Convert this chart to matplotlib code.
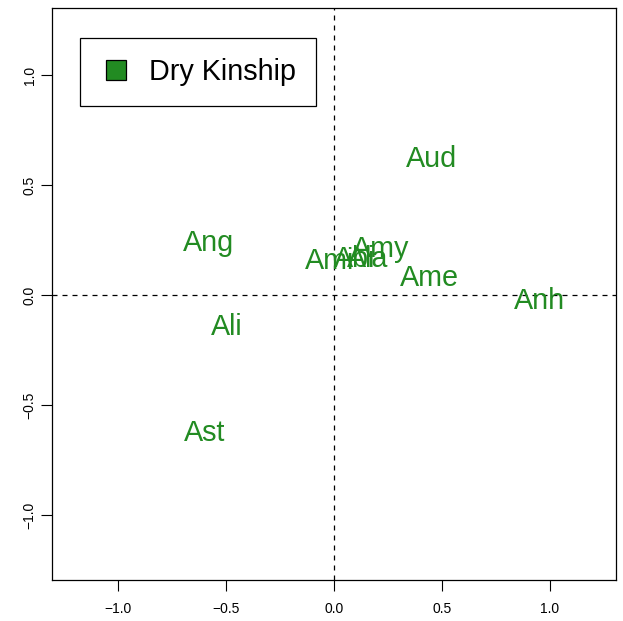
import matplotlib
matplotlib.use("Agg")
import matplotlib.pyplot as plt
from matplotlib.patches import Patch, Rectangle
from matplotlib.legend_handler import HandlerBase

plt.rcParams['font.family'] = ['Liberation Sans', 'DejaVu Sans']

names = ["Aud", "Ang", "Amy", "Ame", "Anh", "Ali", "Ast", "Ami", "Abi", "Ala"]
xs = [0.454, -0.579, 0.218, 0.44, 0.954, -0.495, -0.60, -0.02, 0.097, 0.157]
ys = [0.62, 0.235, 0.21, 0.076, -0.028, -0.145, -0.628, 0.155, 0.163, 0.163]
xticks = [-1.0, -0.5, 0.0, 0.5, 1.0]
yticks = [-1.0, -0.5, 0.0, 0.5, 1.0]
color = "#228B22"


class SquareHandler(HandlerBase):
    def create_artists(self, legend, orig_handle, xdescent, ydescent,
                       width, height, fontsize, trans):
        side = height * 1.0
        r = Rectangle((width - side - xdescent, -ydescent + (height - side) / 2),
                      side, side, facecolor=color, edgecolor="black", lw=0.9,
                      transform=trans)
        return [r]


fig = plt.figure(figsize=(6.23, 6.21), dpi=100)
ax = fig.add_axes([52/623, 1-580/621, (616-52)/623, (580-8)/621])
ax.set_xlim(-1.306, 1.306)
ax.set_ylim(-1.295, 1.305)
ax.axhline(0, color="black", ls=(0, (4, 4)), lw=0.9)
ax.axvline(0, color="black", ls=(0, (4, 4)), lw=0.9)
for n, x, y in zip(names, xs, ys):
    ax.text(x, y, n, color=color, fontsize=20.7, ha="center", va="center")
ax.set_xticks(xticks)
ax.set_xticklabels([f"{t:.1f}".replace("-", "\u2212") for t in xticks])
ax.set_yticks(yticks)
ax.set_yticklabels([f"{t:.1f}".replace("-", "\u2212") for t in yticks], rotation=90, va="center")
ax.tick_params(labelsize=10, length=8)
ax.tick_params(axis="x", pad=8)
ax.tick_params(axis="y", pad=3)
for s in ax.spines.values():
    s.set_linewidth(0.9)
h = Patch(facecolor=color, edgecolor="black", label="Dry Kinship")
leg = ax.legend(handles=[h], handler_map={Patch: SquareHandler()},
                loc="upper left", bbox_to_anchor=(28/564, 1-30/572), fontsize=20.7,
                borderaxespad=0,
                fancybox=False, edgecolor="black", framealpha=1, borderpad=0.7,
                handlelength=0.9, handleheight=0.7, handletextpad=0.8)
leg.get_frame().set_linewidth(0.9)
fig.savefig("out.png", dpi=100)
